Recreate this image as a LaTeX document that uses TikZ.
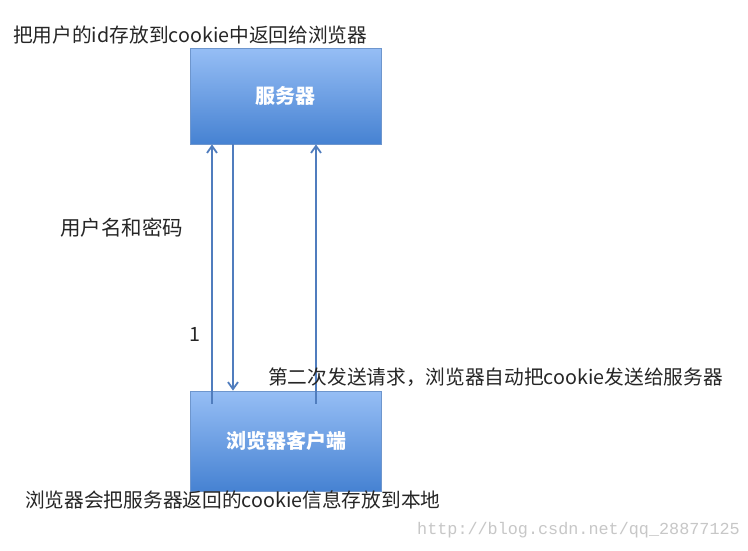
\documentclass[tikz,border=0pt]{standalone}
\usepackage{fontspec}
\setmainfont{Noto Sans CJK SC}
\newfontfamily\wmfont{Liberation Mono}
\usetikzlibrary{arrows.meta}
\definecolor{boxtop}{RGB}{150,190,245}
\definecolor{boxbot}{RGB}{70,130,210}
\definecolor{boxline}{RGB}{110,150,205}
\definecolor{arrcol}{RGB}{80,125,190}
\begin{document}
\begin{tikzpicture}[x=1pt,y=-1pt,
  box/.style={draw=boxline,line width=0.8pt,top color=boxtop,bottom color=boxbot,
    minimum width=191pt,minimum height=96pt,inner sep=0pt,
    text=white,font=\bfseries\fontsize{20}{22}\selectfont},
  lbl/.style={anchor=west,inner sep=0pt,font=\fontsize{19.7}{22}\selectfont,text=black!85},
  arr/.style={draw=arrcol,line width=2.2pt,-{Straight Barb[length=7pt,width=10pt,line width=1.8pt]}}]
\useasboundingbox (0,0) rectangle (748,550);
\fill[white] (0,0) rectangle (748,550);
\node[box] (server) at (285.5,96) {服务器};
\node[box,minimum height=100pt] (client) at (286,441) {浏览器客户端};
\coordinate (a1) at (212,404);
\coordinate (a3) at (316,404);
\coordinate (a2) at (233,144);
\draw[arr] (a1) -- (a1 |- server.south);
\draw[arr] (a3) -- (a3 |- server.south);
\draw[arr] (a2) -- (a2 |- client.north);
\node[lbl] (t1) at (13,35) {把用户的id存放到cookie中返回给浏览器};
\node[lbl,font=\fontsize{20.5}{22}\selectfont] (t2) at (60,228) {用户名和密码};
\node[lbl] (t3) at (189,334) {1};
\node[lbl] (t4) at (268,377) {第二次发送请求，浏览器自动把cookie发送给服务器};
\node[lbl] (t5) at (25,500) {浏览器会把服务器返回的cookie信息存放到本地};
\node[anchor=east,inner sep=0pt,font=\wmfont\fontsize{16.8}{18}\selectfont,text=black!22] (wm) at (740,530) {http://blog.csdn.net/qq\_28877125};
\end{tikzpicture}
\end{document}
